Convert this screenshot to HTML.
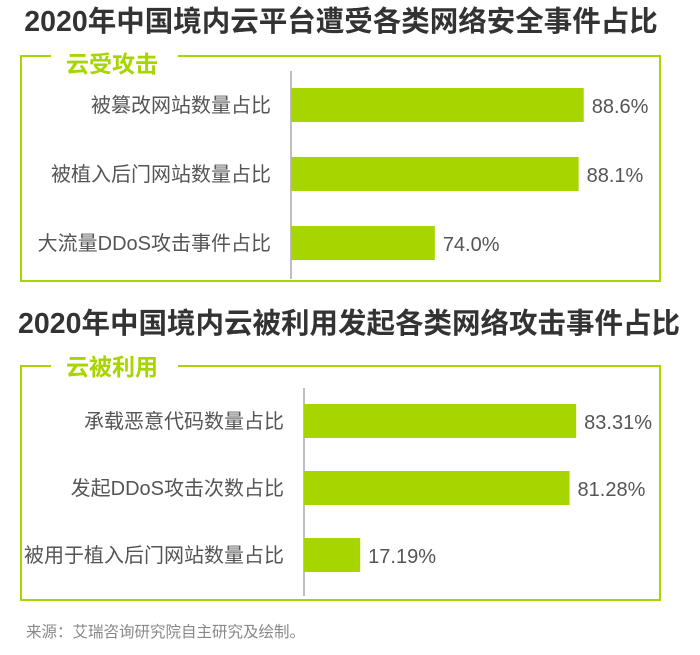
<!DOCTYPE html>
<html><head><meta charset="utf-8"><style>
body{margin:0;background:#fff;width:700px;height:650px;overflow:hidden;font-family:"Liberation Sans","Noto Sans CJK SC",sans-serif}
</style></head><body>
<svg width="700" height="650">
<text x="341" y="31" text-anchor="middle" font-size="28.5" font-weight="bold" fill="#333">2020年中国境内云平台遭受各类网络安全事件占比</text>
<path d="M51,56 H21 V281 H660 V56 H178" fill="none" stroke="#a7d500" stroke-width="2"/>
<text x="66" y="72" font-size="23" font-weight="bold" fill="#a7d500">云受攻击</text>
<line x1="291" y1="71" x2="291" y2="279" stroke="#aaa" stroke-width="1.5"/>
<text x="349" y="333" text-anchor="middle" font-size="28.5" font-weight="bold" fill="#333">2020年中国境内云被利用发起各类网络攻击事件占比</text>
<path d="M51,366 H21 V600 H660 V366 H178" fill="none" stroke="#a7d500" stroke-width="2"/>
<text x="66" y="375" font-size="23" font-weight="bold" fill="#a7d500">云被利用</text>
<line x1="304" y1="388" x2="304" y2="596" stroke="#aaa" stroke-width="1.5"/>
<text x="26" y="637" font-size="15.5" fill="#888">来源：艾瑞咨询研究院自主研究及绘制。</text>
<g id="g1"></g><g id="g2"></g>
</svg>
<script>
const cats1=["被篡改网站数量占比","被植入后门网站数量占比","大流量DDoS攻击事件占比"];
const vals1=[88.6,88.1,74.0];
const labels1=["88.6%","88.1%","74.0%"];
const cats2=["承载恶意代码数量占比","发起DDoS攻击次数占比","被用于植入后门网站数量占比"];
const vals2=[83.31,81.28,17.19];
const labels2=["83.31%","81.28%","17.19%"];
const NS="http://www.w3.org/2000/svg";
function draw(gid,cats,vals,labels,x0,vMin,scale,yTop,step,labelX){
  const g=document.getElementById(gid);
  const x=v=>x0+(v-vMin)*scale;
  cats.forEach((c,i)=>{
    const y=yTop+i*step;
    const r=document.createElementNS(NS,"rect");
    r.setAttribute("x",x0);r.setAttribute("y",y);r.setAttribute("width",Math.max(0,x(vals[i])-x0));r.setAttribute("height",34);r.setAttribute("fill","#a7d500");
    
    
    g.appendChild(r);
    const t=document.createElementNS(NS,"text");
    t.setAttribute("x",labelX);t.setAttribute("y",y+24);t.setAttribute("text-anchor","end");t.setAttribute("font-size","20");t.setAttribute("fill","#555");
    t.textContent=c;
    
    
    g.appendChild(t);
    const v=document.createElementNS(NS,"text");
    v.setAttribute("x",x(vals[i])+8);v.setAttribute("y",y+25);v.setAttribute("font-size","20");v.setAttribute("fill","#555");
    v.textContent=labels[i];
    
    
    g.appendChild(v);
  });
}
draw("g1",cats1,vals1,labels1,291,59.9,10.2,88,69,271);
draw("g2",cats2,vals2,labels2,304,0,3.267,404,67,284);
</script>
</body></html>
